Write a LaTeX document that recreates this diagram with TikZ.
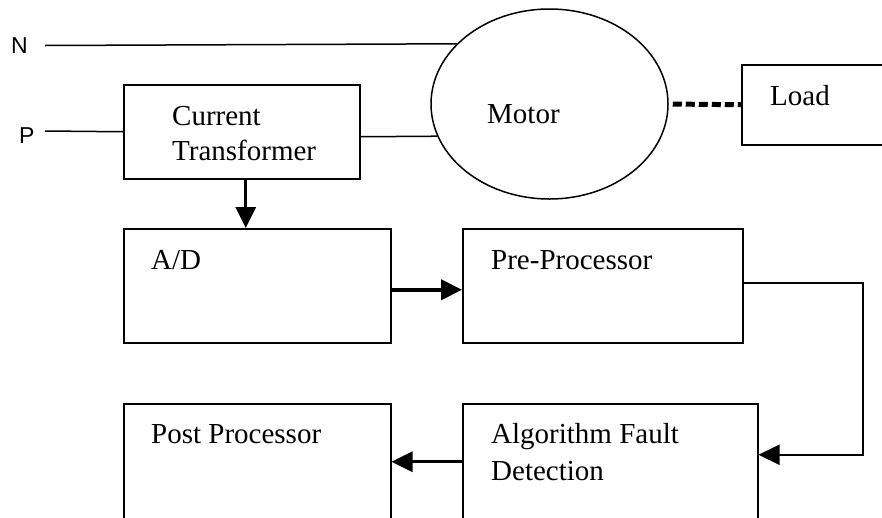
\documentclass[tikz,border=0pt]{standalone}
\usepackage{fontspec}
\setmainfont{Liberation Serif}
\newfontfamily\nfont{Liberation Sans}
\usetikzlibrary{shapes.geometric,arrows.meta}
\begin{document}
\begin{tikzpicture}[x=1pt,y=-1pt,
  box/.style={draw, line width=1.5pt, rectangle, anchor=north west, inner sep=0pt},
  txt/.style={anchor=base west, inner sep=0pt, font=\fontsize{29}{35}\selectfont},
  lbl/.style={anchor=base west, inner sep=0pt, font=\nfont\fontsize{23}{27}\selectfont},
  wire/.style={line width=1.5pt},
  arr/.style={-{Triangle[length=21pt,width=20pt]}}]
\useasboundingbox (0,0) rectangle (882,517);
\clip (0,0) rectangle (882,517);
\fill[white] (0,0) rectangle (882,517);

% boxes
\node[box, minimum width=236pt, minimum height=94pt] (ct) at (123,84) {};
\node[box, minimum width=267pt, minimum height=114pt] (ad) at (123,228) {};
\node[box, minimum width=280pt, minimum height=114pt] (pre) at (462,228) {};
\node[box, minimum width=295pt, minimum height=140pt] (alg) at (462,403) {};
\node[box, minimum width=267pt, minimum height=140pt] (post) at (123,403) {};
\node[box, minimum width=170pt, minimum height=80pt] (load) at (741,64) {};
\node[draw, ellipse, line width=1.5pt, inner sep=0pt, minimum width=237pt, minimum height=190pt] (motor) at (549.5,104) {};

% texts
\node[lbl] (nl) at (11,53) {N};
\node[lbl] (pl) at (19,143) {P};
\node[txt] (ct1) at (172,125) {Current};
\node[txt] (ct2) at (172,160) {Transformer};
\node[txt] (mt) at (487,123) {Motor};
\node[txt] (lt) at (770,105) {Load};
\node[txt] (adt) at (151,269) {A/D};
\node[txt] (pret) at (491,269) {Pre-Processor};
\node[txt] (postt) at (151,443) {Post Processor};
\node[txt] (alg1) at (491,443) {Algorithm Fault};
\node[txt] (alg2) at (491,480) {Detection};

% wires
\coordinate (nstart) at (45,45.5);
\coordinate (pstart) at (45,131);
\draw[wire] (nstart) -- (motor.147.6);
\draw[wire] (pstart) -- (ct.west);
\draw[wire] ([yshift=-5pt]ct.east) -- (motor.196);
\draw[line width=5pt, dash pattern=on 9pt off 4pt, shorten <=4pt] (motor.east) -- (load.west);

% arrows
\draw[line width=3pt, arr] ([xshift=4pt]ct.south) -- ([xshift=4pt]ct.south |- ad.north);
\draw[line width=4pt, arr] ([yshift=-4pt]ad.east) -- ([yshift=-4pt]ad.east -| pre.west);
\draw[line width=2pt, arr] ([yshift=3pt]pre.east) -- ++(119,0) |- ([yshift=19pt]alg.east);
\draw[line width=3pt, arr] ([yshift=12pt]alg.west) -- ([yshift=12pt]alg.west -| post.east);
\end{tikzpicture}
\end{document}
